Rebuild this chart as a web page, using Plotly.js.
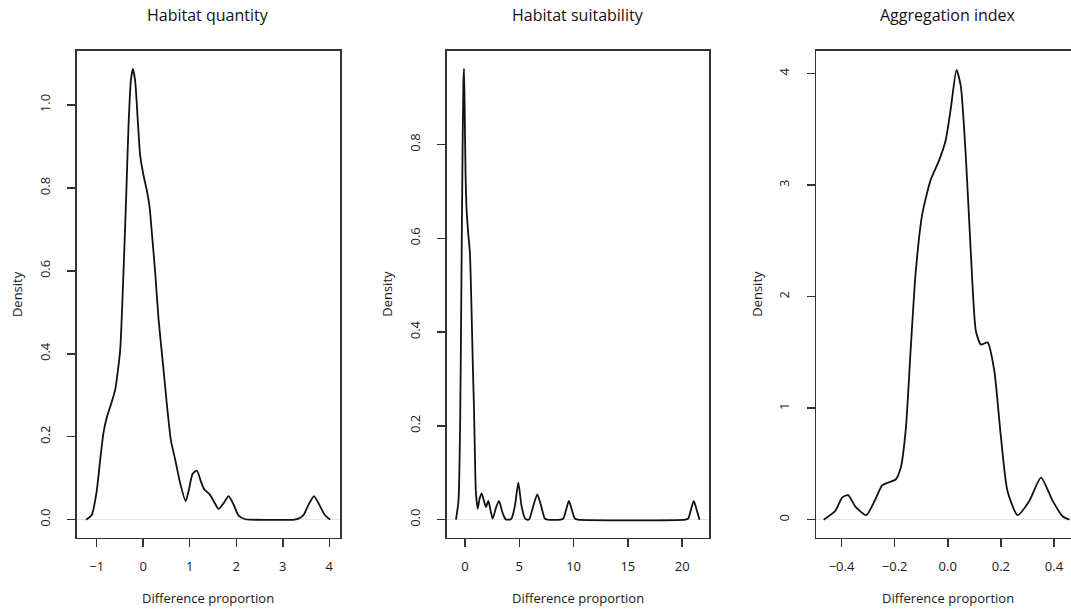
<!DOCTYPE html>
<html>
<head>
<meta charset="utf-8">
<script src="https://cdn.plot.ly/plotly-3.0.1.min.js"></script>
<style>html,body{margin:0;padding:0;background:#fff;}#chart{width:1071px;height:611px;}</style>
</head>
<body>
<div id="chart"></div>
<script>
// ---- Data ----
const panelTitles = ["Habitat quantity", "Habitat suitability", "Aggregation index"];
const xAxisLabel = "Difference proportion";
const yAxisLabel = "Density";

// Habitat quantity density curve
const quantityX = [-1.227,-1.105,-1.0,-0.925,-0.854,-0.782,-0.674,-0.603,-0.567,-0.495,-0.423,-0.366,-0.316,-0.265,-0.222,-0.172,-0.122,-0.065,0.007,0.079,0.136,0.187,0.258,0.33,0.438,0.51,0.595,0.689,0.796,0.911,0.976,1.062,1.155,1.24,1.313,1.428,1.514,1.621,1.729,1.836,1.944,2.05,2.195,2.3,3.25,3.35,3.45,3.55,3.67,3.79,3.9,4.02];
const quantityY = [0,0.012,0.069,0.144,0.21,0.247,0.285,0.313,0.34,0.41,0.6,0.78,0.95,1.06,1.087,1.057,0.972,0.878,0.83,0.793,0.755,0.69,0.595,0.483,0.36,0.276,0.191,0.144,0.087,0.045,0.069,0.111,0.118,0.092,0.073,0.061,0.045,0.026,0.04,0.057,0.036,0.01,0.001,0,0,0.003,0.012,0.035,0.057,0.035,0.012,0];

// Habitat suitability density curve
const suitabilityX = [-0.83,-0.6,-0.45,-0.35,-0.25,-0.15,-0.09,-0.02,0.05,0.15,0.3,0.45,0.6,0.72,0.83,0.93,1.0,1.17,1.35,1.53,1.75,1.93,2.15,2.35,2.55,2.85,3.13,3.45,3.74,3.95,4.15,4.3,4.6,4.91,5.2,5.52,5.7,5.85,5.95,6.3,6.66,7.0,7.36,7.6,8.8,9.05,9.3,9.57,9.85,10.12,10.4,20.3,20.55,20.8,21.07,21.35,21.6];
const suitabilityY = [0,0.04,0.2,0.45,0.72,0.93,0.962,0.86,0.74,0.66,0.61,0.57,0.45,0.33,0.235,0.12,0.06,0.023,0.045,0.056,0.04,0.027,0.04,0.02,0.002,0.025,0.04,0.015,0.001,0,0,0.003,0.03,0.079,0.03,0.003,0,0,0.002,0.03,0.054,0.03,0.002,0,0,0.002,0.02,0.04,0.02,0.002,0,0,0.002,0.02,0.04,0.02,0];

// Aggregation index density curve
const aggregationX = [-0.467,-0.423,-0.397,-0.375,-0.347,-0.307,-0.272,-0.247,-0.221,-0.196,-0.177,-0.158,-0.14,-0.121,-0.096,-0.064,-0.033,-0.008,0.011,0.033,0.049,0.068,0.087,0.106,0.125,0.15,0.175,0.2,0.225,0.263,0.307,0.351,0.395,0.433,0.458];
const aggregationY = [0,0.08,0.2,0.22,0.115,0.04,0.185,0.307,0.335,0.36,0.465,0.81,1.51,2.21,2.74,3.05,3.22,3.40,3.68,4.035,3.89,3.26,2.39,1.69,1.57,1.59,1.34,0.744,0.255,0.04,0.168,0.377,0.168,0.028,0];

// Tick values
const quantityXTicks = [-1,0,1,2,3,4];
const quantityYTicks = [0,0.2,0.4,0.6,0.8,1.0];
const suitabilityXTicks = [0,5,10,15,20];
const suitabilityYTicks = [0,0.2,0.4,0.6,0.8];
const aggregationXTicks = [-0.4,-0.2,0,0.2,0.4];
const aggregationYTicks = [0,1,2,3,4];

// ---- Layout helpers ----
const W = 1071, H = 611;
const FONT = "Open Sans, Noto Sans, sans-serif";
const boxTop = 50.5, boxBottom = 537.7;
const boxes = [[76.7, 340], [446.7, 709.3], [816, 1071]];
const yDom = [(H - boxBottom) / H, (H - boxTop) / H];

function xAx(i, range, ticks, fmt) {
  return {
    domain: [boxes[i][0] / W, boxes[i][1] / W],
    range: range, tickmode: "array", tickvals: ticks, tickformat: fmt,
    showline: true, linecolor: "#333", linewidth: 1.5, mirror: true,
    ticks: "outside", ticklen: 8, tickwidth: 1.5, tickcolor: "#333",
    ticklabelstandoff: 8,
    showgrid: false, zeroline: false,
    tickfont: {family: FONT, size: 13, color: "#1a1a1a"},
    anchor: i === 0 ? "y" : "y" + (i + 1), fixedrange: true
  };
}
function yAx(i, range, ticks, fmt, mirrorRight) {
  return {
    domain: yDom, range: range, tickmode: "array", tickvals: ticks, tickformat: fmt,
    showline: true, linecolor: "#333", linewidth: 1.5, mirror: mirrorRight,
    ticks: "outside", ticklen: 8, tickwidth: 1.5, tickcolor: "#333",
    tickangle: -90, ticklabelstandoff: 12,
    showgrid: false, zeroline: true, zerolinecolor: "#e4e4e4", zerolinewidth: 1,
    tickfont: {family: FONT, size: 13, color: "#1a1a1a"},
    anchor: i === 0 ? "x" : "x" + (i + 1), fixedrange: true
  };
}

const lineStyle = {color: "#111", width: 1.8, shape: "spline", smoothing: 0.6};
const traces = [
  {x: quantityX, y: quantityY, xaxis: "x", yaxis: "y", mode: "lines", line: lineStyle, hoverinfo: "skip"},
  {x: suitabilityX, y: suitabilityY, xaxis: "x2", yaxis: "y2", mode: "lines", line: lineStyle, hoverinfo: "skip"},
  {x: aggregationX, y: aggregationY, xaxis: "x3", yaxis: "y3", mode: "lines", line: lineStyle, hoverinfo: "skip"}
];

const centers = [(76.7 + 340) / 2, (446.7 + 709.3) / 2, (816 + 1080) / 2];
const yLabX = [17, 386.7, 756.7];
const annotations = [];
for (let i = 0; i < 3; i++) {
  annotations.push({text: panelTitles[i], xref: "paper", yref: "paper", x: centers[i] / W, y: 1 - 15 / H,
    xanchor: "center", yanchor: "middle", showarrow: false, font: {family: FONT, size: 16, color: "#111"}});
  annotations.push({text: xAxisLabel, xref: "paper", yref: "paper", x: centers[i] / W, y: (H - 597.7) / H,
    xanchor: "center", yanchor: "middle", showarrow: false, font: {family: FONT, size: 13, color: "#1a1a1a"}});
  annotations.push({text: yAxisLabel, xref: "paper", yref: "paper", x: yLabX[i] / W, y: 1 - ((boxTop + boxBottom) / 2) / H,
    xanchor: "center", yanchor: "middle", textangle: -90, showarrow: false, font: {family: FONT, size: 13, color: "#1a1a1a"}});
}

const layout = {
  width: W, height: H, margin: {l: 0, r: 0, t: 0, b: 0},
  paper_bgcolor: "#fff", plot_bgcolor: "#fff", showlegend: false,
  xaxis: xAx(0, [-1.43, 4.23], quantityXTicks, "d"),
  yaxis: yAx(0, [-0.0435, 1.1315], quantityYTicks, ".1f", true),
  xaxis2: xAx(1, [-1.685, 22.5], suitabilityXTicks, "d"),
  yaxis2: yAx(1, [-0.0385, 1.0005], suitabilityYTicks, ".1f", true),
  xaxis3: xAx(2, [-0.496, 0.464], aggregationXTicks, ".1f"),
  yaxis3: yAx(2, [-0.162, 4.208], aggregationYTicks, "d", false),
  annotations: annotations
};

Plotly.newPlot("chart", traces, layout, {staticPlot: true, displayModeBar: false});
</script>
</body>
</html>
